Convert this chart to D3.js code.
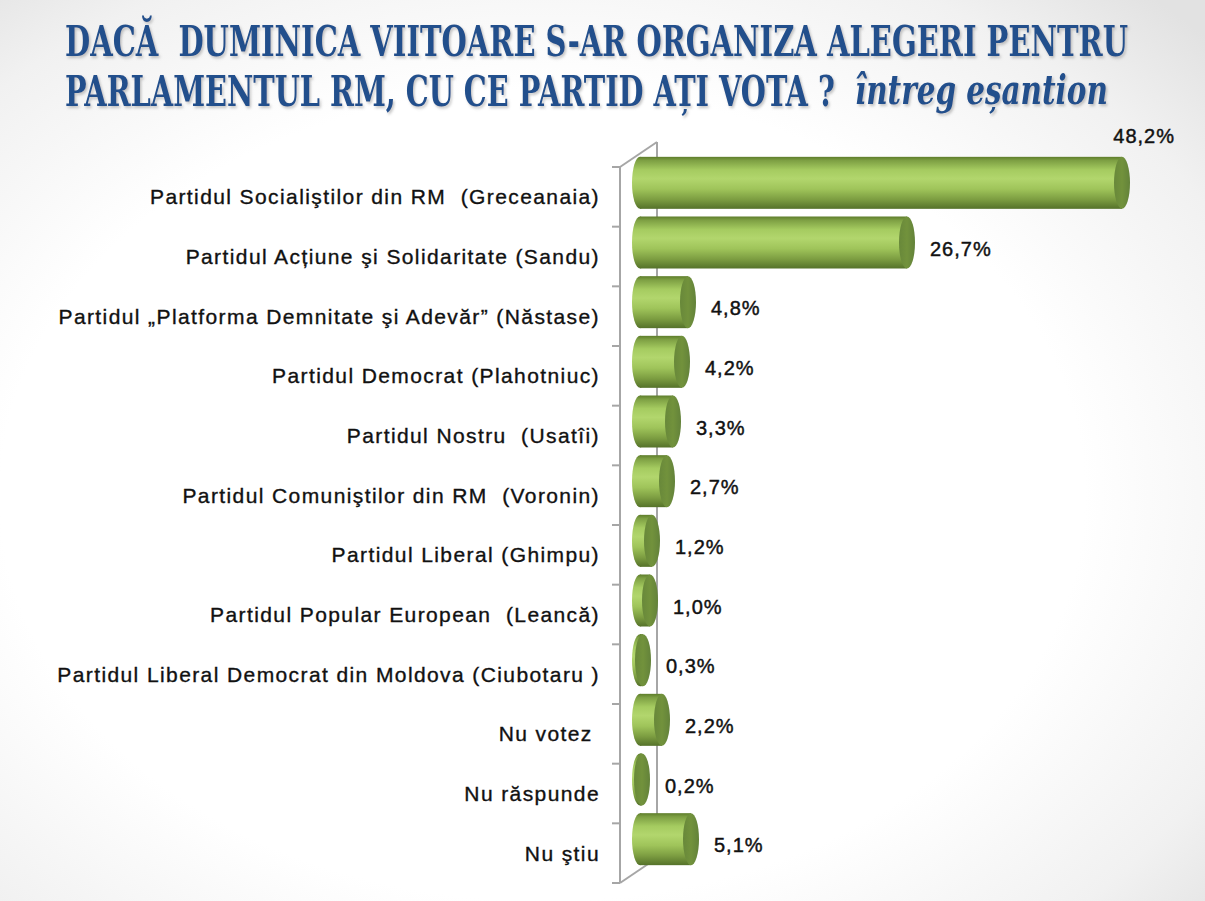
<!DOCTYPE html>
<html>
<head>
<meta charset="utf-8">
<script src="https://cdn.jsdelivr.net/npm/d3@7"></script>
<style>
  html, body { margin: 0; padding: 0; background: #ffffff; }
  svg { display: block; }
</style>
</head>
<body>
<svg id="chart" width="1205" height="901"></svg>
<script>
// ---- data ----
const categories = [
  "Partidul Socialiştilor din RM  (Greceanaia)",
  "Partidul Acțiune şi Solidaritate (Sandu)",
  "Partidul „Platforma Demnitate şi Adevăr” (Năstase)",
  "Partidul Democrat (Plahotniuc)",
  "Partidul Nostru  (Usatîi)",
  "Partidul Comuniştilor din RM  (Voronin)",
  "Partidul Liberal (Ghimpu)",
  "Partidul Popular European  (Leancă)",
  "Partidul Liberal Democrat din Moldova (Ciubotaru )",
  "Nu votez ",
  "Nu răspunde",
  "Nu ştiu"
];
const values = [48.2, 26.7, 4.8, 4.2, 3.3, 2.7, 1.2, 1.0, 0.3, 2.2, 0.2, 5.1];
const valueLabels = ["48,2%", "26,7%", "4,8%", "4,2%", "3,3%", "2,7%", "1,2%", "1,0%", "0,3%", "2,2%", "0,2%", "5,1%"];
const titleLine1 = "DACĂ  DUMINICA VIITOARE S-AR ORGANIZA ALEGERI PENTRU";
const titleLine2 = "PARLAMENTUL RM, CU CE PARTID AȚI VOTA ?";
const titleSuffix = "întreg eșantion";

// ---- layout ----
const svg = d3.select("#chart");
const W = 1205, H = 901;
const frontX = 620, topY = 167, bottomY = 883;
const depthX = 37, depthY = -25;
const barOffX = 20, barOffY = -14;
const barH = 52, capRx = 8;

const defs = svg.append("defs");

// background
const bg = defs.append("radialGradient").attr("id", "bg")
  .attr("cx", "45%").attr("cy", "55%").attr("r", "75%");
bg.append("stop").attr("offset", "0%").attr("stop-color", "#ffffff");
bg.append("stop").attr("offset", "60%").attr("stop-color", "#ffffff");
bg.append("stop").attr("offset", "85%").attr("stop-color", "#f1f1f1");
bg.append("stop").attr("offset", "100%").attr("stop-color", "#e2e2e2");
svg.append("rect").attr("width", W).attr("height", H).attr("fill", "url(#bg)");

// body gradient
const bodyG = defs.append("linearGradient").attr("id", "body")
  .attr("x1", 0).attr("y1", 0).attr("x2", 0).attr("y2", 1);
[["0%", "#5e7d2b"], ["7%", "#7d9f43"], ["25%", "#a5cb60"], ["42%", "#b2d66d"],
 ["62%", "#9fc45a"], ["82%", "#7c9d41"], ["100%", "#55722a"]]
  .forEach(([o, c]) => bodyG.append("stop").attr("offset", o).attr("stop-color", c));

const capG = defs.append("linearGradient").attr("id", "cap")
  .attr("x1", 0).attr("y1", 0).attr("x2", 1).attr("y2", 0);
[["0%", "#68883a"], ["50%", "#72923c"], ["100%", "#63823a"]]
  .forEach(([o, c]) => capG.append("stop").attr("offset", o).attr("stop-color", c));

const sh = defs.append("filter").attr("id", "tshadow")
  .attr("x", "-5%").attr("y", "-20%").attr("width", "110%").attr("height", "150%");
sh.append("feDropShadow").attr("dx", 2).attr("dy", 2).attr("stdDeviation", 1.5)
  .attr("flood-color", "#7f7f7f").attr("flood-opacity", 0.45);

// ---- title (condensed by horizontal scaling) ----
const tcol = "#23508c";
function titleText(txt, tx, ty, targetW, size, italic) {
  const t = svg.append("text")
    .attr("font-family", "'DejaVu Serif Condensed', 'DejaVu Serif', serif")
    .attr("font-weight", "bold").attr("font-size", size).attr("fill", tcol)
    .attr("font-style", italic ? "italic" : "normal")
    .attr("filter", "url(#tshadow)")
    .style("white-space", "pre").text(txt);
  const len = t.node().getComputedTextLength();
  t.attr("transform", `translate(${tx},${ty}) scale(${targetW / len},1)`);
  return t;
}
titleText(titleLine1, 65, 56, 1063, 43, false);
titleText(titleLine2, 65, 106, 770, 43, false);
titleText(titleSuffix, 855, 104, 253, 41, true);

// ---- scales ----
const y = d3.scaleBand().domain(categories).range([topY, bottomY]);
const x = d3.scaleLinear().domain([0, 50]).range([frontX + barOffX, frontX + barOffX + 500]);

// ---- axis frame ----
const axisCol = "#a6a6a6";
const ax = svg.append("g").attr("stroke", axisCol).attr("stroke-width", 2).attr("fill", "none");
ax.append("line").attr("x1", frontX).attr("y1", topY).attr("x2", frontX).attr("y2", bottomY);
ax.append("line").attr("x1", frontX).attr("y1", topY).attr("x2", frontX + depthX).attr("y2", topY + depthY);
ax.append("line").attr("x1", frontX + depthX).attr("y1", topY + depthY).attr("x2", frontX + depthX).attr("y2", bottomY + depthY);
ax.append("line").attr("x1", frontX).attr("y1", bottomY).attr("x2", frontX + depthX).attr("y2", bottomY + depthY);
const tickYs = categories.map(c => y(c)).concat([bottomY]);
ax.selectAll("line.tick").data(tickYs).join("line").attr("class", "tick")
  .attr("x1", frontX - 8).attr("x2", frontX).attr("y1", d => d).attr("y2", d => d);

// ---- category labels ----
svg.append("g").selectAll("text").data(categories).join("text")
  .attr("x", 600).attr("y", d => y(d) + y.bandwidth() / 2)
  .attr("text-anchor", "end").attr("dominant-baseline", "central")
  .attr("font-family", "'Liberation Sans', Arial, sans-serif").attr("font-size", 21)
  .attr("letter-spacing", 1.4)
  .attr("fill", "#111").attr("stroke", "#111").attr("stroke-width", 0.35)
  .style("white-space", "pre")
  .text(d => d);

// ---- bars (cylinders) ----
const bars = svg.append("g").selectAll("g").data(values).join("g")
  .attr("transform", (d, i) => `translate(0,${y(categories[i]) + y.bandwidth() / 2 + barOffY})`);
bars.append("ellipse").attr("cx", x(0)).attr("cy", 0).attr("rx", capRx).attr("ry", barH / 2)
  .attr("fill", "url(#body)");
bars.append("rect").attr("x", x(0)).attr("y", -barH / 2)
  .attr("width", d => x(d) - x(0)).attr("height", barH).attr("fill", "url(#body)");
bars.append("ellipse").attr("cx", d => x(d)).attr("cy", 0).attr("rx", capRx).attr("ry", barH / 2)
  .attr("fill", "url(#cap)");

// ---- value labels ----
const outside = d => x(d) + capRx + 14 > 1100;
svg.append("g").selectAll("text").data(values).join("text")
  .attr("x", d => outside(d) ? 1175 : x(d) + capRx + 15)
  .attr("y", (d, i) => {
    const cy = y(categories[i]) + y.bandwidth() / 2 + barOffY;
    return outside(d) ? cy - 47 : cy + 6;
  })
  .attr("text-anchor", d => outside(d) ? "end" : "start")
  .attr("dominant-baseline", "central")
  .attr("font-family", "'Liberation Sans', Arial, sans-serif").attr("font-size", 20)
  .attr("letter-spacing", 1)
  .attr("fill", "#111").attr("stroke", "#111").attr("stroke-width", 0.45)
  .text((d, i) => valueLabels[i]);
</script>
</body>
</html>
